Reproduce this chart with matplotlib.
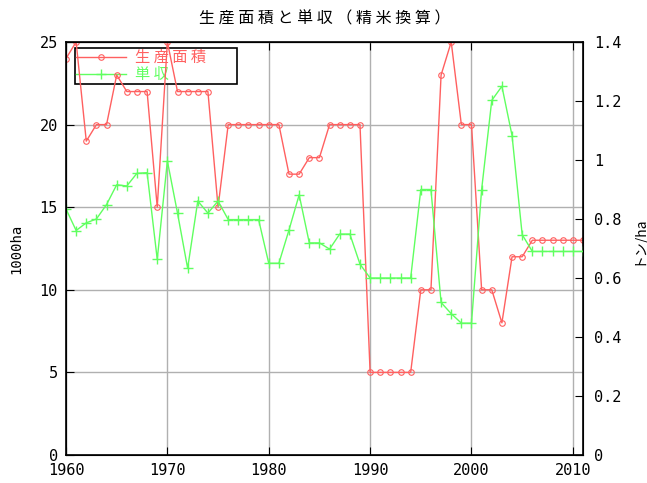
import matplotlib
matplotlib.use('Agg')
import matplotlib.pyplot as plt
import numpy as np

years = list(range(1960, 2012))

# 生産面積 (1000ha)
area = [24, 25, 19, 20, 20, 23, 22, 22, 22, 15,
        25, 22, 22, 22, 22, 15, 20, 20, 20, 20,
        20, 20, 17, 17, 18, 18, 20, 20, 20, 20,
        5, 5, 5, 5, 5, 10, 10, 23, 25, 20,
        20, 10, 10, 8, 12, 12, 13, 13, 13, 13,
        13, 13]

# 単収 (トン/ha)
yield_ = [0.834, 0.761, 0.787, 0.800, 0.849, 0.916, 0.912, 0.955, 0.957, 0.663,
          0.997, 0.820, 0.633, 0.861, 0.820, 0.861, 0.798, 0.798, 0.798, 0.798,
          0.650, 0.650, 0.763, 0.882, 0.719, 0.719, 0.698, 0.749, 0.749, 0.647,
          0.600, 0.600, 0.600, 0.600, 0.600, 0.900, 0.900, 0.517, 0.479, 0.447,
          0.447, 0.900, 1.202, 1.250, 1.083, 0.747, 0.690, 0.690, 0.690, 0.690,
          0.690, 0.690]

red = '#ff6060'
green = '#60ff60'
mono = 'DejaVu Sans Mono'
jp = ['Noto Sans CJK JP', 'DejaVu Sans']

fig = plt.figure(figsize=(6.47, 4.83), dpi=100)
ax = fig.add_axes([66 / 647, 1 - 455 / 483, (583 - 66) / 647, (455 - 42) / 483])
ax2 = ax.twinx()

l1, = ax.plot(years, area, color=red, lw=1, marker='o', ms=4, mfc='none',
              mec=red, mew=0.8, label='生 産 面 積         ')
l2, = ax2.plot(years, yield_, color=green, lw=1, marker='+', ms=7,
               mew=1, label='単 収')

ax.set_xlim(1960, 2011)
ax.set_ylim(0, 25)
ax2.set_ylim(0, 1.4)
ax.set_xticks(range(1960, 2011, 10))
ax.set_yticks(range(0, 26, 5))
ax2.set_yticks(np.arange(0, 1.41, 0.2))
ax2.set_yticklabels(['0', '0.2', '0.4', '0.6', '0.8', '1', '1.2', '1.4'])

ax.grid(True, color='#b0b0b0', lw=1)
ax.set_axisbelow(True)
ax.tick_params(direction='in', length=6, top=True, labelsize=11, pad=6)
ax2.tick_params(direction='in', length=6, labelsize=11, pad=8)
for lab in ax.get_xticklabels() + ax.get_yticklabels() + ax2.get_yticklabels():
    lab.set_family(mono)
for sp in ax.spines.values():
    sp.set_linewidth(1.2)

ax.set_ylabel('1000ha', family=mono, fontsize=10)
ax.yaxis.set_label_coords(-0.083, 0.5)
ax2.set_ylabel('トン/ha', family=jp, fontsize=10)
ax2.yaxis.set_label_coords(1.094, 0.52)
ax.set_title('生 産 面 積 と 単 収 （ 精 米 換 算 ）', family=jp,
             fontsize=11.5, pad=13)

leg = ax.legend(handles=[l1, l2], loc='upper left', bbox_to_anchor=(0.017, 0.985),
                prop={'family': 'Noto Sans CJK JP', 'size': 11}, frameon=True,
                fancybox=False, edgecolor='black', framealpha=1,
                borderpad=0.05, labelspacing=0.0, handlelength=3.3,
                handletextpad=0.6, borderaxespad=0)
leg.get_frame().set_linewidth(1.2)
for txt, c in zip(leg.get_texts(), [red, green]):
    txt.set_color(c)
leg.set_zorder(1)

fig.savefig('out.png', dpi=100)
